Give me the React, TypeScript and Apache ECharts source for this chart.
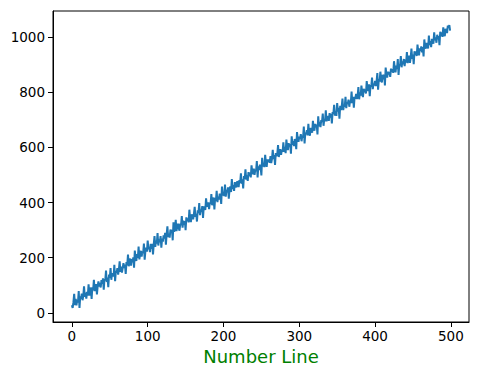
import React, { useEffect, useRef } from "react";
import * as echarts from "echarts";

const yValues: number[] = [
  28,18,39,69,28,51,27,47,38,79,18,60,51,70,46,61,96,58,73,52,
  76,63,104,63,78,92,51,93,82,120,79,95,104,67,97,114,95,109,92,119,
  105,125,84,123,118,153,112,128,93,139,127,162,120,144,139,132,174,115,152,146,
  162,139,157,187,149,168,146,163,180,163,175,141,184,173,211,169,184,197,171,195,
  183,201,164,226,198,188,213,200,240,194,214,225,204,223,216,251,193,225,236,222,
  262,231,239,220,250,232,250,212,249,278,239,262,251,289,244,266,256,278,236,269,
  258,281,270,290,247,285,314,275,286,273,302,290,301,263,328,294,305,337,296,314,
  323,307,298,324,318,351,309,334,319,333,300,346,333,342,328,374,339,329,357,350,
  339,359,384,348,359,331,372,362,398,354,374,367,387,344,386,380,373,415,389,385,
  401,376,400,395,431,390,404,418,375,417,406,442,401,421,411,432,422,395,458,426,
  435,424,465,421,446,437,455,414,447,458,438,485,449,463,442,474,461,455,477,471,
  456,481,471,506,468,484,451,496,486,520,483,498,478,510,496,508,491,535,508,503,
  523,500,519,514,550,491,531,518,537,529,498,562,530,543,528,573,545,529,556,547,
  556,544,568,543,558,591,557,572,536,579,568,576,608,565,581,593,573,591,583,618,
  584,602,579,628,600,590,615,603,612,577,640,609,622,604,630,621,593,655,631,620,
  639,630,648,622,642,635,675,614,653,648,662,643,685,652,642,670,665,653,696,669,
  660,685,673,682,647,712,676,692,673,699,692,722,678,701,695,734,694,713,706,696,
  724,708,721,687,728,721,754,715,730,714,760,730,743,704,750,735,748,777,735,751,
  747,783,742,764,758,773,747,769,760,802,760,783,744,783,777,794,775,787,818,774,
  799,787,824,797,782,812,800,810,795,840,813,804,828,785,826,820,853,811,831,824,
  841,822,838,869,809,847,838,874,846,835,863,846,863,824,889,862,853,874,864,873,
  855,885,873,883,870,912,885,872,896,884,920,862,900,897,931,890,911,901,920,894,
  918,907,945,905,922,932,906,924,958,921,936,901,948,934,947,931,972,947,933,959,
  949,966,944,963,929,991,963,958,978,973,958,1005,971,985,963,993,984,976,1017,988,
  998,979,1008,992,1003,970,1019,1003,1016,1000,1035,1013,1003,1029,1024,1014,1041,1034,1043,1023,
];

const xTicks: number[] = [0, 100, 200, 300, 400, 500];
const yTicks: number[] = [0, 200, 400, 600, 800, 1000];
const xAxisTitle = "Number Line";

export default function App() {
  const ref = useRef<HTMLDivElement>(null);
  useEffect(() => {
    document.body.style.margin = "0";
    if (!ref.current) return;
    const chart = echarts.init(ref.current, null, { renderer: "svg" });
    const font = "DejaVu Sans";
    chart.setOption({
      animation: false,
      backgroundColor: "#ffffff",
      grid: {
        left: 53,
        top: 11,
        width: 416,
        height: 311,
        show: true,
        borderColor: "#000000",
        borderWidth: 1,
        containLabel: false,
      },
      xAxis: {
        type: "value",
        min: -24.95,
        max: 523.95,
        name: xAxisTitle,
        nameLocation: "middle",
        nameGap: 23,
        nameTextStyle: { color: "#008000", fontSize: 18, fontFamily: font },
        splitLine: { show: false },
        axisLine: { show: true, onZero: false, lineStyle: { color: "#000", width: 1 } },
        axisTick: {
          show: true,
          length: 5,
          customValues: xTicks,
          lineStyle: { color: "#000" },
        },
        axisLabel: {
          customValues: xTicks,
          color: "#000",
          fontSize: 13.5,
          fontFamily: font,
          margin: 7,
          formatter: (v: number) => String(v),
        },
      },
      yAxis: {
        type: "value",
        min: -33,
        max: 1094,
        splitLine: { show: false },
        axisLine: { show: true, onZero: false, lineStyle: { color: "#000", width: 1 } },
        axisTick: {
          show: true,
          length: 5,
          customValues: yTicks,
          lineStyle: { color: "#000" },
        },
        axisLabel: {
          customValues: yTicks,
          color: "#000",
          fontSize: 13.5,
          fontFamily: font,
          margin: 8,
          formatter: (v: number) => String(v),
        },
      },
      series: [
        {
          type: "line",
          data: yValues.map((v, i) => [i, v]),
          showSymbol: false,
          symbol: "none",
          lineStyle: { color: "#1f77b4", width: 2 },
        },
      ],
    });
    return () => chart.dispose();
  }, []);
  return <div ref={ref} style={{ width: 482, height: 374 }} />;
}
